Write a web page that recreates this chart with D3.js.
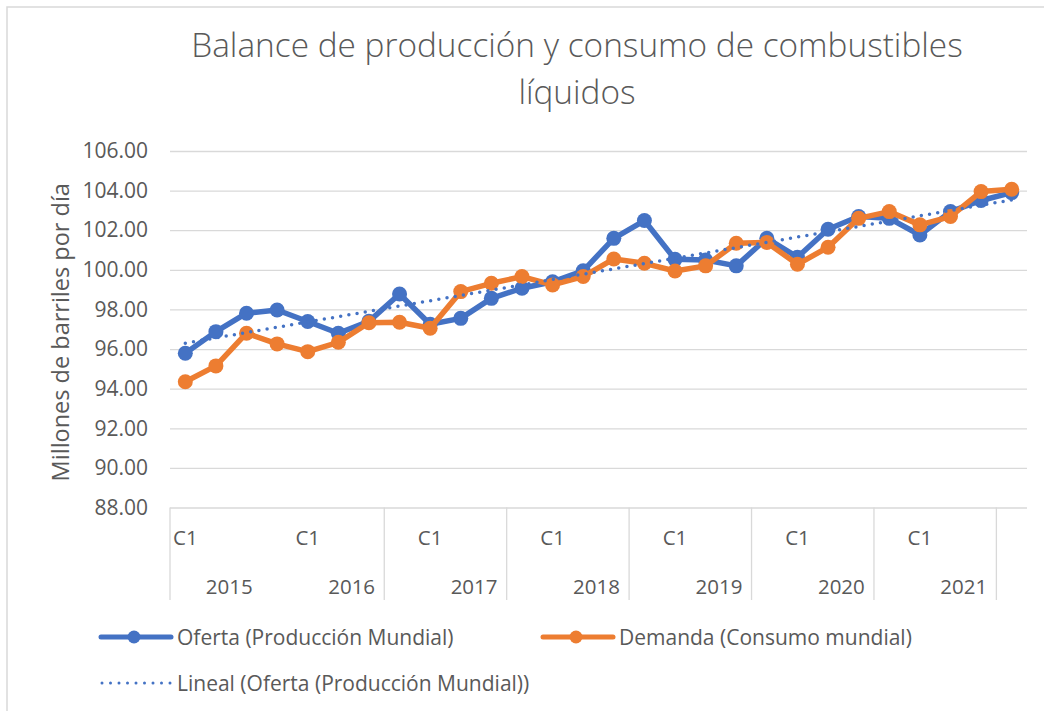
<!DOCTYPE html>
<html>
<head>
<meta charset="utf-8">
<script src="https://cdn.jsdelivr.net/npm/d3@7"></script>
<style>
  body { margin: 0; background: #fff; }
  svg { display: block; font-family: "Open Sans", "Noto Sans", sans-serif; }
</style>
</head>
<body>
<svg id="chart"></svg>
<script>
// datos
const years = ['2015', '2016', '2017', '2018', '2019', '2020', '2021'];
const quarters = ['C1', 'C2', 'C3', 'C4'];
const oferta = [95.79, 96.88, 97.81, 97.97, 97.39, 96.80, 97.40, 98.78, 97.25, 97.55, 98.56, 99.07, 99.40, 99.95,
  101.59, 102.49, 100.53, 100.50, 100.20, 101.59, 100.64, 102.05, 102.69, 102.60, 101.76, 102.94, 103.50, 103.90];
const demanda = [94.35, 95.15, 96.80, 96.26, 95.87, 96.34, 97.33, 97.35, 97.05, 98.90, 99.32, 99.66, 99.24, 99.66,
  100.55, 100.33, 99.94, 100.20, 101.34, 101.38, 100.28, 101.14, 102.60, 102.94, 102.27, 102.69, 103.95, 104.07];
const yTicks = [88, 90, 92, 94, 96, 98, 100, 102, 104, 106];
// separadores de la categoria exterior (indice de categoria), como en el original
const yearDividers = [0, 7, 11, 15, 19, 23, 27];

const titleLines = ['Balance de producción y consumo de combustibles', 'líquidos'];
const yTitle = 'Millones de barriles por día';
const legendNames = ['Oferta (Producción Mundial)', 'Demanda (Consumo mundial)', 'Lineal (Oferta (Producción Mundial))'];

const BLUE = '#4472C4', ORANGE = '#ED7D31', TEXT = '#595959', GRID = '#d9d9d9';
const width = 1044, height = 711;
const plot = {left: 170, right: 1027, top: 151, bottom: 507.5};

const svg = d3.select('#chart').attr('width', width).attr('height', height);

// borde del area del grafico
svg.append('rect')
  .attr('x', 7).attr('y', 7)
  .attr('width', width + 20).attr('height', height + 20)
  .attr('fill', '#fff').attr('stroke', GRID).attr('stroke-width', 1.5);

// categorias
const categories = [];
years.forEach(y => quarters.forEach(q => categories.push({year: y, q: q})));

const xScale = d3.scaleBand()
  .domain(d3.range(categories.length))
  .range([plot.left, plot.right]);
const bw = xScale.bandwidth();
const cx = i => xScale(i) + bw / 2;

const yScale = d3.scaleLinear()
  .domain([88, 106])
  .range([plot.bottom, plot.top]);

// titulo
const title = svg.append('g');
titleLines.forEach((t, i) => {
  title.append('text')
    .attr('x', 577).attr('y', 57 + i * 47)
    .attr('text-anchor', 'middle')
    .attr('fill', TEXT)
    .style('font-size', '30px')
    .style('font-weight', 300)
    .text(t);
});
// ajustar tamaño al ancho del original
const t0 = title.select('text').node();
const fs = 30 * 772 / t0.getComputedTextLength();
title.selectAll('text').style('font-size', fs + 'px');

// cuadricula y eje Y
const yAxis = d3.axisLeft(yScale)
  .tickValues(yTicks)
  .tickFormat(d3.format('.2f'))
  .tickSize(-(plot.right - plot.left))
  .tickPadding(22);
const yg = svg.append('g')
  .attr('transform', `translate(${plot.left},0)`)
  .call(yAxis);
yg.select('.domain').remove();
yg.selectAll('.tick line').attr('stroke', GRID).attr('stroke-width', 1.3);
yg.selectAll('.tick text')
  .attr('fill', TEXT)
  .style('font-size', '21px')
  .style('font-family', '"Open Sans", sans-serif');

svg.append('text')
  .attr('transform', `translate(69,${(plot.top + plot.bottom) / 2 + 3}) rotate(-90)`)
  .attr('text-anchor', 'middle')
  .attr('fill', TEXT)
  .style('font-size', '23.5px')
  .text(yTitle);

// eje X multinivel
const xg = svg.append('g');
xg.selectAll('.divider')
  .data(yearDividers)
  .enter()
  .append('line')
  .attr('x1', d => xScale(d)).attr('x2', d => xScale(d))
  .attr('y1', plot.bottom).attr('y2', 600)
  .attr('stroke', GRID).attr('stroke-width', 1.3);

xg.selectAll('.qlabel')
  .data(categories.map((c, i) => ({c: c, i: i})).filter(d => d.c.q === 'C1'))
  .enter()
  .append('text')
  .attr('x', d => cx(d.i))
  .attr('y', 545)
  .attr('text-anchor', 'middle')
  .attr('fill', TEXT)
  .style('font-size', '20.5px')
  .text(d => d.c.q);

xg.selectAll('.ylabel')
  .data(years)
  .enter()
  .append('text')
  .attr('x', (d, k) => xScale(k * 4 + 2) - 2)
  .attr('y', 594)
  .attr('text-anchor', 'middle')
  .attr('fill', TEXT)
  .style('font-size', '20.5px')
  .text(d => d);

// series
const line = d3.line()
  .x((d, i) => cx(i))
  .y(d => yScale(d));

[[oferta, BLUE], [demanda, ORANGE]].forEach(([vals, color]) => {
  const g = svg.append('g');
  g.append('path')
    .attr('d', line(vals))
    .attr('fill', 'none')
    .attr('stroke', color)
    .attr('stroke-width', 5.5)
    .attr('stroke-linejoin', 'round')
    .attr('stroke-linecap', 'round');
  g.selectAll('circle')
    .data(vals)
    .enter()
    .append('circle')
    .attr('cx', (d, i) => cx(i))
    .attr('cy', d => yScale(d))
    .attr('r', 7.5)
    .attr('fill', color);
});

// linea de tendencia lineal (minimos cuadrados sobre la oferta)
const idx = d3.range(oferta.length);
const mx = d3.mean(idx), my = d3.mean(oferta);
const slope = d3.sum(idx, i => (i - mx) * (oferta[i] - my)) / d3.sum(idx, i => (i - mx) * (i - mx));
const icpt = my - slope * mx;
const ends = [0, oferta.length - 1];
svg.append('path')
  .attr('d', d3.line().x(i => cx(i)).y(i => yScale(icpt + slope * i))(ends))
  .attr('fill', 'none')
  .attr('stroke', BLUE)
  .attr('stroke-width', 3.5)
  .attr('stroke-linecap', 'round')
  .attr('stroke-dasharray', '0 8.3');

// leyenda
const legend = svg.append('g');
const items = [
  {name: legendNames[0], color: BLUE, x: 99, y: 637, type: 'marker'},
  {name: legendNames[1], color: ORANGE, x: 541, y: 637, type: 'marker'},
  {name: legendNames[2], color: BLUE, x: 99, y: 683, type: 'dots'}
];
items.forEach(it => {
  const g = legend.append('g').attr('transform', `translate(${it.x},${it.y})`);
  if (it.type === 'marker') {
    g.append('line')
      .attr('x1', 2).attr('x2', 72)
      .attr('stroke', it.color).attr('stroke-width', 5).attr('stroke-linecap', 'round');
    g.append('circle').attr('cx', 35).attr('r', 6.5).attr('fill', it.color);
  } else {
    g.append('line')
      .attr('x1', 3).attr('x2', 72)
      .attr('stroke', it.color).attr('stroke-width', 3)
      .attr('stroke-linecap', 'round').attr('stroke-dasharray', '0 8.5');
  }
  g.append('text')
    .attr('x', 78).attr('y', 7.5)
    .attr('fill', TEXT)
    .style('font-size', '21px')
    .text(it.name);
});
</script>
</body>
</html>
